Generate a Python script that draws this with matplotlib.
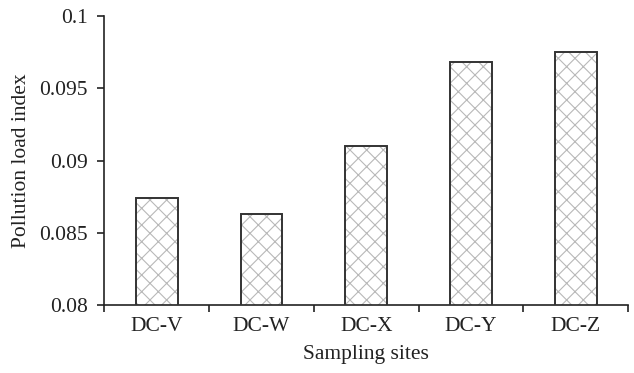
import numpy as np
import matplotlib.pyplot as plt

plt.rcParams['font.family'] = ['Liberation Serif', 'DejaVu Serif']
plt.rcParams['hatch.color'] = '#b8b8b8'
plt.rcParams['hatch.linewidth'] = 0.8

sites = ['DC-V', 'DC-W', 'DC-X', 'DC-Y', 'DC-Z']
pli = [0.0874, 0.0863, 0.0910, 0.0968, 0.0975]
yticks = [0.08, 0.085, 0.09, 0.095, 0.1]
yticklabels = ['0.08', '0.085', '0.09', '0.095', '0.1']

#===============================================================================
fig = plt.figure( figsize=(6.34, 3.73), dpi=100 )
ax = fig.add_axes( [0.1645, 0.181, 0.8265, 0.777] )

x = np.arange( len(sites) )
# hatch layer, then the dark outline on top
ax.bar( x, pli, width=0.4, bottom=0, color='white', edgecolor='#b8b8b8',
        hatch='xx', lw=0, zorder=2 )
ax.bar( x, pli, width=0.4, bottom=0, fill=False, edgecolor='#333333',
        lw=1.4, zorder=3 )

ax.set_xlim( -0.5, len(sites) - 0.5 )
ax.set_ylim( 0.08, 0.1 )
ax.set_yticks( yticks )
ax.set_yticklabels( yticklabels )
ax.set_xticks( x )
ax.set_xticklabels( sites )
ax.set_xticks( np.arange( len(sites) + 1 ) - 0.5, minor=True )

ax.tick_params( axis='x', which='major', length=0, pad=8, labelsize=15.5, colors='#222222' )
ax.tick_params( axis='x', which='minor', length=5, width=1.2, color='#222222' )
ax.tick_params( axis='y', length=5, width=1.2, pad=7, labelsize=15.5, colors='#222222' )

for side in ['top', 'right']:
    ax.spines[side].set_visible(False)
for side in ['left', 'bottom']:
    ax.spines[side].set_linewidth(1.2)
    ax.spines[side].set_color('#222222')
ax.spines['left'].set_bounds( 0.08, 0.1 )

ax.set_xlabel( 'Sampling sites', fontsize=15.5, color='#222222', labelpad=7 )
ax.set_ylabel( 'Pollution load index', fontsize=15.5, color='#222222', labelpad=6 )

fig.savefig( 'out.png', dpi=100 )
